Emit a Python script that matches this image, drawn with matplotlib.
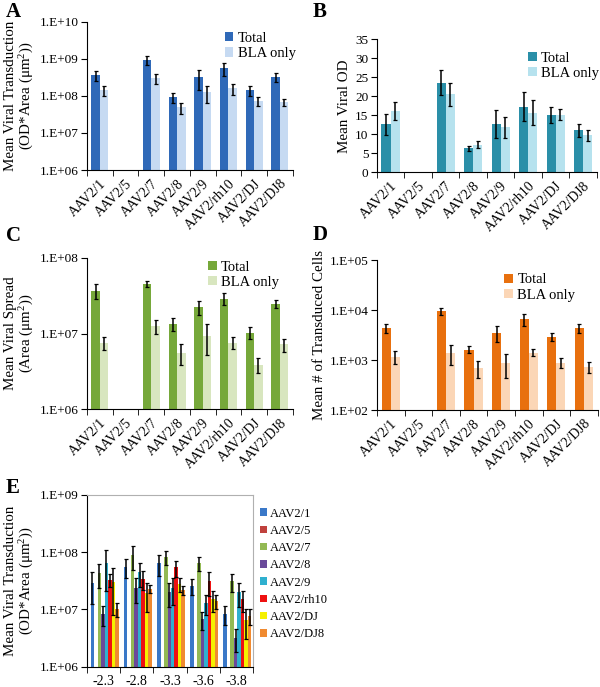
import numpy as np
import matplotlib
matplotlib.use("Agg")
import matplotlib.pyplot as plt

plt.rcParams['font.family'] = ['Liberation Serif', 'DejaVu Serif']
plt.rcParams['mathtext.fontset'] = 'custom'
plt.rcParams['mathtext.rm'] = 'Liberation Serif'
plt.rcParams['mathtext.it'] = 'Liberation Serif:italic'

serotypes = ["AAV2/1", "AAV2/5", "AAV2/7", "AAV2/8", "AAV2/9", "AAV2/rh10", "AAV2/DJ", "AAV2/DJ8"]

# A: mean viral transduction (OD*Area)
a_total = [3.66e8, 0, 9.3e8, 9.1e7, 3.2e8, 5.5e8, 1.44e8, 3.2e8]
a_total_err = [1.1e8, 0, 2.6e8, 2.5e7, 1.8e8, 2.0e8, 4.5e7, 9.0e7]
a_bla = [1.44e8, 0, 2.98e8, 4.9e7, 1.24e8, 1.6e8, 7.2e7, 6.8e7]
a_bla_err = [4.4e7, 0, 9.0e7, 1.7e7, 6.0e7, 5.5e7, 2.0e7, 1.5e7]

# B: mean viral OD
b_total = [12.6, 0, 23.6, 6.3, 12.7, 17.3, 15.1, 11.0]
b_total_err = [2.8, 0, 3.3, 0.6, 3.7, 3.7, 2.0, 1.8]
b_bla = [16.1, 0, 20.5, 7.3, 11.8, 15.7, 15.2, 9.7]
b_bla_err = [2.4, 0, 3.1, 0.9, 2.8, 3.2, 1.5, 1.4]

# C: mean viral spread (Area)
c_total = [3.7e7, 0, 4.55e7, 1.35e7, 2.24e7, 2.9e7, 1.03e7, 2.48e7]
c_total_err = [8e6, 0, 4e6, 2.5e6, 5e6, 5e6, 1.9e6, 3e6]
c_bla = [7.5e6, 0, 1.26e7, 5.5e6, 9.3e6, 7.6e6, 3.9e6, 7.2e6]
c_bla_err = [1.5e6, 0, 2.7e6, 1.7e6, 4e6, 1.4e6, 9e5, 1.4e6]

# D: mean number of transduced cells
d_total = [4400, 0, 9400, 1620, 3500, 6600, 2900, 4350]
d_total_err = [900, 0, 1500, 250, 1200, 1700, 550, 950]
d_bla = [1150, 0, 1380, 700, 890, 1410, 890, 730]
d_bla_err = [330, 0, 600, 260, 450, 220, 210, 180]

# E: transduction by A/P coordinate, one list per serotype
coords = ["-2.3", "-2.8", "-3.3", "-3.6", "-3.8"]
e_vals = {
    "AAV2/1":    [2.86e7, 5.6e7, 6.4e7, 2.6e7, 8.3e6],
    "AAV2/5":    [0, 0, 0, 0, 0],
    "AAV2/7":    [4.3e7, 8.9e7, 8.1e7, 6.4e7, 3.1e7],
    "AAV2/8":    [8.3e6, 2.4e7, 2.0e7, 6.7e6, 3.2e6],
    "AAV2/9":    [6.4e7, 4.5e7, 2.4e7, 1.3e7, 2.0e7],
    "AAV2/rh10": [3.3e7, 3.4e7, 5.4e7, 3.1e7, 1.5e7],
    "AAV2/DJ":   [3.0e7, 1.9e7, 2.8e7, 1.5e7, 6.5e6],
    "AAV2/DJ8":  [1.0e7, 2.3e7, 2.2e7, 1.4e7, 7.7e6],
}
e_errs = {
    "AAV2/1":    [1.6e7, 2.0e7, 2.5e7, 8e6, 3e6],
    "AAV2/5":    [0, 0, 0, 0, 0],
    "AAV2/7":    [1.9e7, 4.0e7, 2.2e7, 1.7e7, 1.1e7],
    "AAV2/8":    [3.2e6, 1.1e7, 9e6, 2.4e6, 1.4e6],
    "AAV2/9":    [4.3e7, 2.0e7, 1.2e7, 5e6, 9e6],
    "AAV2/rh10": [8e6, 1.2e7, 1.7e7, 1.4e7, 6e6],
    "AAV2/DJ":   [2.2e7, 1.0e7, 8e6, 6e6, 3.5e6],
    "AAV2/DJ8":  [2.7e6, 4e6, 4e6, 4e6, 2.3e6],
}
e_colors = ["#3a78c8", "#c0413d", "#93b954", "#6a4a9a", "#2fb0cf", "#ee1111", "#f5f000", "#f08a30"]

fig = plt.figure(figsize=(6, 6.87), dpi=100)

err_kw = dict(ecolor="black", elinewidth=1.1, capsize=1.4, capthick=0.9)


def style_axis(ax):
    ax.spines['top'].set_visible(False)
    ax.spines['right'].set_visible(False)
    ax.tick_params(axis='y', direction='out', length=4, labelsize=9.5, pad=2)
    ax.tick_params(axis='y', which='minor', length=0)


def pair_panel(rect, total, total_err, bla, bla_err, c_tot, c_bla, log, ylim, yticks, ylabels,
               ylabel, leg_anchor):
    ax = fig.add_axes(rect)
    x = np.arange(len(serotypes))
    w = 0.33
    tot = [v if v > 0 else np.nan for v in total]
    bl = [v if v > 0 else np.nan for v in bla]
    ax.bar(x - w / 2, tot, w, yerr=total_err, color=c_tot, label="Total", error_kw=err_kw)
    ax.bar(x + w / 2, bl, w, yerr=bla_err, color=c_bla, label="BLA only", error_kw=err_kw)
    if log:
        ax.set_yscale('log')
    ax.set_ylim(*ylim)
    ax.set_yticks(yticks, ylabels)
    ax.set_xlim(-0.5, len(serotypes) - 0.5)
    ax.set_xticks(x, serotypes, rotation=45, ha='right', rotation_mode='anchor', fontsize=10)
    ax.tick_params(axis='x', which='major', length=0, pad=5)
    ax.set_xticks(np.arange(len(serotypes) + 1) - 0.5, minor=True)
    ax.tick_params(axis='x', which='minor', length=4, direction='out')
    style_axis(ax)
    ax.set_ylabel(ylabel, fontsize=10.8, labelpad=3, linespacing=1.05)
    ax.legend(loc='upper left', bbox_to_anchor=leg_anchor, frameon=False, fontsize=10.5,
              handlelength=0.6, handleheight=0.6, handletextpad=0.3, labelspacing=0.15,
              borderaxespad=0)
    return ax


log_lbl = lambda lo, hi: ([10.0 ** k for k in range(lo, hi + 1)],
                          ["1.E+%02d" % k for k in range(lo, hi + 1)])

t, l = log_lbl(6, 10)
pair_panel([0.145, 0.7525, 0.343, 0.216], a_total, a_total_err, a_bla, a_bla_err,
           "#2f69b8", "#c6daf2", True, (1e6, 1e10), t, l,
           "Mean Viral Transduction\n(OD*Area (μm$^2$))", (0.64, 0.97))

pair_panel([0.628, 0.7492, 0.367, 0.1936], b_total, b_total_err, b_bla, b_bla_err,
           "#2a8fa8", "#b6e2ee", False, (0, 35), list(range(0, 36, 5)),
           [str(v) for v in range(0, 36, 5)], "Mean Viral OD", (0.66, 0.95))

t, l = log_lbl(6, 8)
pair_panel([0.145, 0.4042, 0.343, 0.2203], c_total, c_total_err, c_bla, c_bla_err,
           "#76a83a", "#d8e6bf", True, (1e6, 1e8), t, l,
           "Mean Viral Spread\n(Area (μm$^2$))", (0.56, 1.02))

t, l = log_lbl(2, 5)
pair_panel([0.6283, 0.4032, 0.368, 0.2183], d_total, d_total_err, d_bla, d_bla_err,
           "#e8700e", "#fbd6b6", True, (1e2, 1e5), t, l,
           "Mean # of Transduced Cells", (0.55, 0.95))

# E
ax = fig.add_axes([0.145, 0.0296, 0.2767, 0.25])
x = np.arange(len(coords))
bw = 0.105
for k, (name, col) in enumerate(zip(serotypes, e_colors)):
    vals = [v if v > 0 else np.nan for v in e_vals[name]]
    ax.bar(x + (k - 3.5) * bw + 0.03, vals, bw, yerr=e_errs[name], color=col, label=name,
           error_kw=err_kw)
ax.set_yscale('log')
ax.set_ylim(1e6, 1e9)
t, l = log_lbl(6, 9)
ax.set_yticks(t, l)
ax.set_xlim(-0.5, len(coords) - 0.5)
ax.set_xticks(x, coords, fontsize=10)
ax.tick_params(axis='x', which='major', length=0, pad=6)
ax.set_xticks(np.arange(len(coords) + 1) - 0.5, minor=True)
ax.tick_params(axis='x', which='minor', length=4, direction='out')
ax.tick_params(axis='y', direction='out', length=4, labelsize=9.5, pad=2)
ax.tick_params(axis='y', which='minor', length=0)
for s in ['top', 'right']:
    ax.spines[s].set_color('#b0b0b0')
ax.set_ylabel("Mean Viral Transduction\n(OD*Area (μm$^2$))", fontsize=10.8, labelpad=3,
              linespacing=1.05)
ax.legend(loc='upper left', bbox_to_anchor=(1.01, 0.955), frameon=False, fontsize=9,
          handlelength=0.55, handleheight=0.55, handletextpad=0.25, labelspacing=0.42,
          borderaxespad=0)

# panel letters
for letter, px, py in [("A", 6, 2), ("B", 313, 2), ("C", 6, 226), ("D", 313, 225), ("E", 6, 478)]:
    fig.text(px / 600, 1 - py / 687, letter, fontsize=15, fontweight='bold', va='top', ha='left')

fig.savefig("out.png", dpi=100)
